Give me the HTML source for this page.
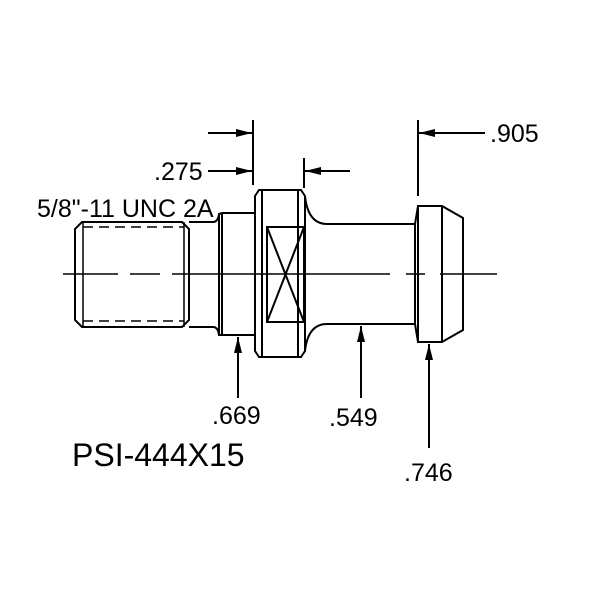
<!DOCTYPE html>
<html><head><style>body{margin:0;background:#fff}svg{display:block}</style></head>
<body>
<svg width="600" height="600" viewBox="0 0 600 600" xmlns="http://www.w3.org/2000/svg">
<defs><marker id="a" markerWidth="16" markerHeight="8" refX="16" refY="4" orient="auto" markerUnits="userSpaceOnUse"><path d="M0,0 L16,4 L0,8 Z" fill="#000"/></marker></defs>
<g fill="none" stroke="#000" stroke-width="2">
<!-- thread -->
<path d="M82,222 L182,222 L189,229 L189,320 L182,327 L82,327 L75,320 L75,229 Z"/>
<line x1="83" y1="222" x2="83" y2="327" stroke-width="1.5"/>
<line x1="184" y1="222" x2="184" y2="327" stroke-width="1.5"/>
<line x1="83" y1="227" x2="184" y2="227" stroke-dasharray="10,6" stroke-width="1.5"/>
<line x1="83" y1="321" x2="184" y2="321" stroke-dasharray="10,6" stroke-width="1.5"/>
<!-- neck -->
<path d="M189,222 L213,222 Q218,222 219,214 L222,213"/>
<path d="M189,327 L213,327 Q218,327 219,335 L222,335"/>
<!-- collar -->
<path d="M222,213 L255,213 M222,335 L255,335 M222,213 L222,335 M219,214 L219,334"/>
<!-- hex -->
<path d="M259,190 L301,190 L305,196 L305,351 L301,357 L259,357 L255,351 L255,196 Z"/>
<line x1="262" y1="190" x2="262" y2="357"/>
<line x1="298" y1="190" x2="298" y2="357"/>
<rect x="267" y="227" width="37" height="95"/>
<path d="M267,227 L304,322 M304,227 L267,322"/>
<!-- shank -->
<path d="M305,196 Q308,224 327,224 L415,224 L418,206"/>
<path d="M305,351 Q308,324 327,324 L415,324 L418,342"/>
<!-- head -->
<path d="M418,206 L442,206 L463,218 L463,330 L442,342 L418,342 Z"/>
<line x1="442" y1="206" x2="442" y2="342"/>
<line x1="415" y1="224" x2="415" y2="324"/>
<!-- centerline -->
<path d="M63,274 L118,274 M130,274 L160,274 M172,274 L390,274 M406,274 L425,274 M440,274 L497,274" stroke-width="1.5"/>
<!-- dims -->
<line x1="253" y1="120" x2="253" y2="185"/>
<line x1="304" y1="158" x2="304" y2="188"/>
<line x1="418" y1="120" x2="418" y2="196"/>
<line x1="208" y1="133" x2="252" y2="133" marker-end="url(#a)"/>
<line x1="208" y1="171" x2="252" y2="171" marker-end="url(#a)"/>
<line x1="350" y1="171" x2="305" y2="171" marker-end="url(#a)"/>
<line x1="485" y1="133" x2="419" y2="133" marker-end="url(#a)"/>
<line x1="238" y1="398" x2="238" y2="337" marker-end="url(#a)"/>
<line x1="361" y1="398" x2="361" y2="326" marker-end="url(#a)"/>
<line x1="429" y1="448" x2="429" y2="344" marker-end="url(#a)"/>
</g>
<g font-family="Liberation Sans, sans-serif" font-size="25" fill="#000">
<text x="154" y="180">.275</text>
<text x="490" y="142">.905</text>
<text x="37" y="217">5/8"-11 UNC 2A</text>
<text x="212" y="424">.669</text>
<text x="329" y="426">.549</text>
<text x="404" y="481">.746</text>
<text x="72" y="466" font-size="32">PSI-444X15</text>
</g>
</svg>
</body></html>
